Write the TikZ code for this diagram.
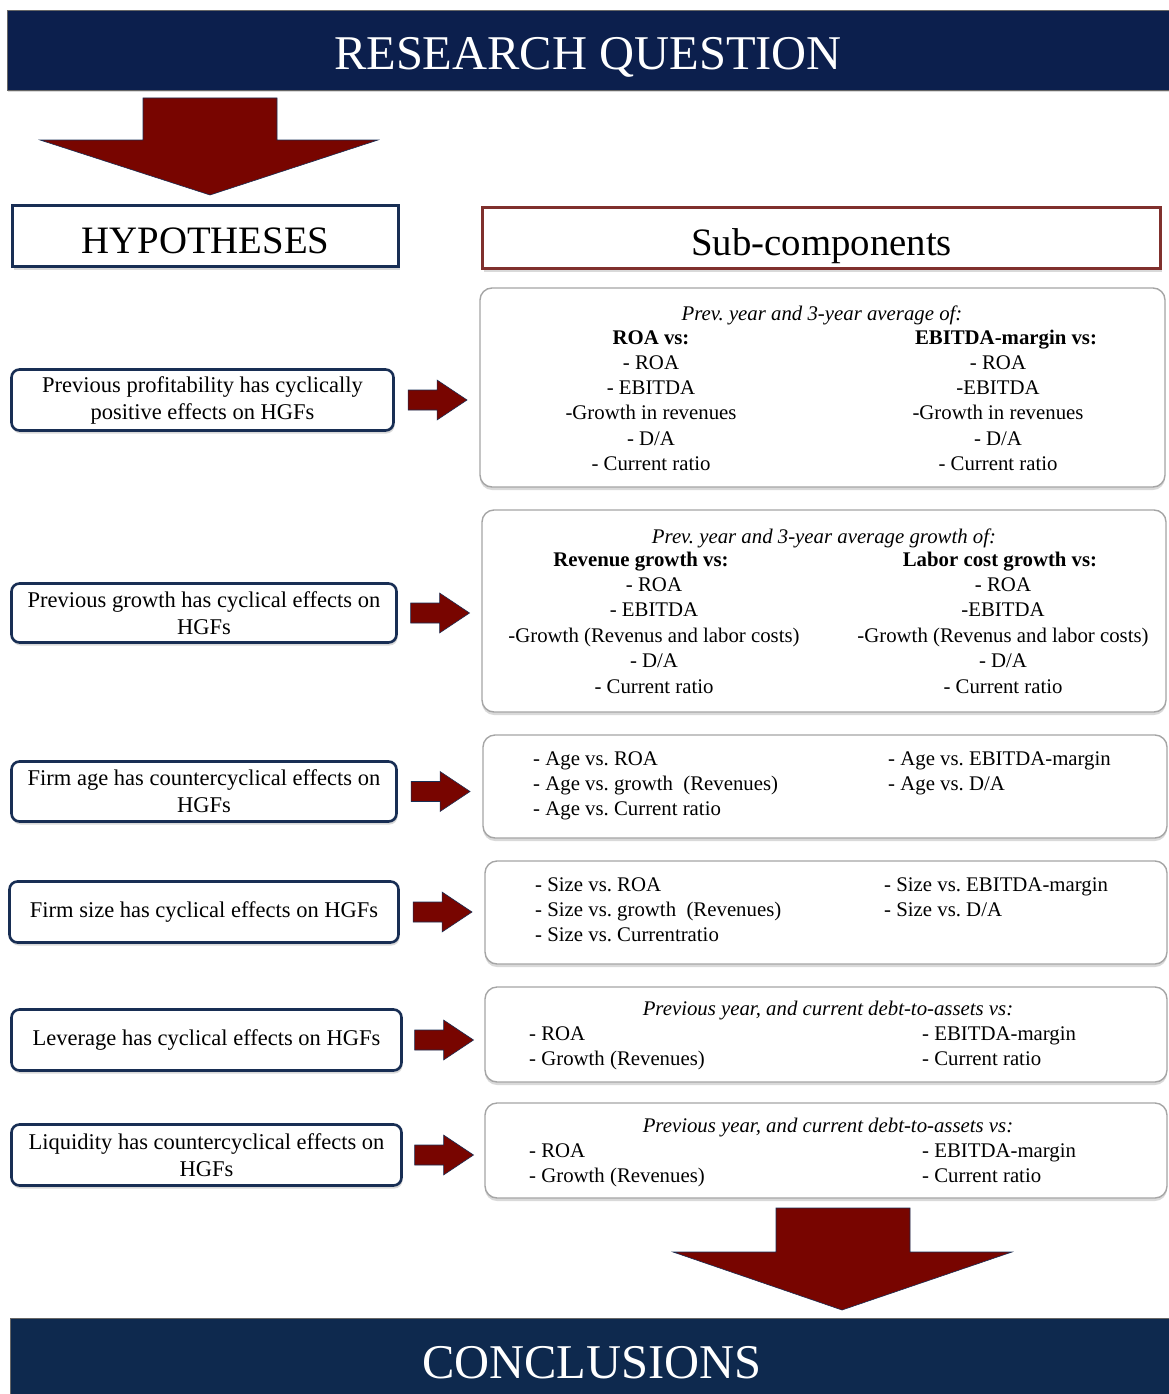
\documentclass[tikz,border=0pt]{standalone}
\usepackage{fontspec}
\setmainfont{Liberation Serif}
\usetikzlibrary{calc,shadows}
\definecolor{barblue}{RGB}{12,31,77}
\definecolor{barblue2}{RGB}{14,41,78}
\definecolor{arrowred}{RGB}{120,5,0}
\definecolor{hypblue}{RGB}{24,46,84}
\definecolor{subred}{RGB}{128,48,45}
\definecolor{boxgray}{RGB}{165,165,165}
\newcommand\titlesize{\fontsize{48.5}{56}\selectfont}
\newcommand\headsize{\fontsize{38.8}{44}\selectfont}
\newcommand\hypsize{\fontsize{22.5}{27}\selectfont}
\newcommand\compsize{\fontsize{20.8}{25}\selectfont}
\frenchspacing

\begin{document}
\begin{tikzpicture}[x=1pt,y=-1pt,
  bar/.style={draw=black!60,line width=0.8pt,inner sep=0pt,
    drop shadow={opacity=0.3,shadow xshift=1pt,shadow yshift=-2pt}},
  bartext/.style={text=white,font=\titlesize,inner sep=0pt,text depth=0pt},
  headbox/.style={line width=2.6pt,fill=white,inner sep=0pt,font=\headsize,text height=34pt,text depth=0pt,
    drop shadow={opacity=0.3,shadow xshift=1pt,shadow yshift=-3pt}},
  hyp/.style={draw=hypblue,line width=2.6pt,rounded corners=8pt,fill=white,align=center,
    font=\hypsize,inner sep=0pt,drop shadow={opacity=0.3,shadow xshift=1pt,shadow yshift=-3pt}},
  comp/.style={draw=boxgray,line width=1.4pt,rounded corners=12pt,fill=white,inner sep=0pt,
    drop shadow={opacity=0.3,shadow xshift=0pt,shadow yshift=-3pt}},
  ctext/.style={font=\compsize,anchor=base,inner sep=0pt},
  fat/.style={fill=arrowred,draw=hypblue,line width=0.6pt},
]
\useasboundingbox (0,0) rectangle (1169,1394);

\node[bar,fill=barblue,minimum width=1162pt,minimum height=80pt] (rq) at (588,50) {};
\node[bartext] (rqt) at (588,53) {RESEARCH QUESTION};
\draw[fat] (143,98) -- (277,98) -- (277,140) -- (378,140) -- (210,195) -- (40,140) -- (143,140) -- cycle;

\node[headbox,draw=hypblue,minimum width=386pt,minimum height=61pt] (hyp) at (205.5,236) {HYPOTHESES};
\node[headbox,draw=subred,minimum width=678pt,minimum height=61pt] (sub) at (821.5,238) {Sub-components};

\node[hyp,minimum width=382pt,minimum height=61pt] (h1) at (202.5,400) {Previous profitability has cyclically\\positive effects on HGFs};
\node[hyp,minimum width=385pt,minimum height=59pt] (h2) at (204,613) {Previous growth has cyclical effects on\\HGFs};
\node[hyp,minimum width=385pt,minimum height=60pt] (h3) at (204,791.5) {Firm age has countercyclical effects on\\HGFs};
\node[hyp,minimum width=389pt,minimum height=61pt] (h4) at (204,912) {Firm size has cyclical effects on HGFs};
\node[hyp,minimum width=390pt,minimum height=61pt] (h5) at (206.5,1040) {Leverage has cyclical effects on HGFs};
\node[hyp,minimum width=390pt,minimum height=61pt] (h6) at (206.5,1155) {Liquidity has countercyclical effects on\\HGFs};

\node[comp,minimum width=685pt,minimum height=199pt] (s1) at (822.5,387.5) {};
\node[comp,minimum width=684pt,minimum height=202pt] (s2) at (824,611) {};
\node[comp,minimum width=684pt,minimum height=103pt] (s3) at (825,786.5) {};
\node[comp,minimum width=682pt,minimum height=103pt] (s4) at (826,912.5) {};
\node[comp,minimum width=682pt,minimum height=95pt] (s5) at (826,1034.5) {};
\node[comp,minimum width=682pt,minimum height=95pt] (s6) at (826,1150.5) {};

\foreach \i in {1,...,6}
\draw[fat] ($(h\i.east)!0.5!(s\i.west |- h\i.east)$) ++(-29,-10) -- ++(29,0) -- ++(0,-10) -- ++(30,20) -- ++(-30,20) -- ++(0,-10) -- ++(-29,0) -- cycle;

\node[ctext,font=\compsize\itshape] (s1t) at (822,320) {Prev. year and 3-year average of:};
\node[ctext,font=\compsize\bfseries] (s1a) at (651,344) {ROA vs:};
\node[ctext,font=\compsize\bfseries] (s1b) at (1006,344) {EBITDA-margin vs:};
\foreach \t [count=\i] in {- ROA,- EBITDA,-Growth in revenues,- D/A,- Current ratio}
\node[ctext] (s1a\i) at (651,{344+25.3*\i}) {\t};
\foreach \t [count=\i] in {- ROA,-EBITDA,-Growth in revenues,- D/A,- Current ratio}
\node[ctext] (s1b\i) at (998,{344+25.3*\i}) {\t};

\node[ctext,font=\compsize\itshape] (s2t) at (824,543) {Prev. year and 3-year average growth of:};
\node[ctext,font=\compsize\bfseries] (s2a) at (641,566) {Revenue growth vs:};
\node[ctext,font=\compsize\bfseries] (s2b) at (1000,566) {Labor cost growth vs:};
\foreach \t [count=\i] in {- ROA,- EBITDA,-Growth (Revenus and labor costs),- D/A,- Current ratio}
\node[ctext] (s2a\i) at (654,{566+25.4*\i}) {\t};
\foreach \t [count=\i] in {- ROA,-EBITDA,-Growth (Revenus and labor costs),- D/A,- Current ratio}
\node[ctext] (s2b\i) at (1003,{566+25.4*\i}) {\t};

\foreach \t [count=\i from 0] in {- Age vs. ROA,- Age vs. growth\ \ (Revenues),- Age vs. Current ratio}
\node[ctext,anchor=base west] (s3a\i) at (533,{765+25*\i}) {\t};
\foreach \t [count=\i from 0] in {- Age vs. EBITDA-margin,- Age vs. D/A}
\node[ctext,anchor=base west] (s3b\i) at (888,{765+25*\i}) {\t};

\foreach \t [count=\i from 0] in {- Size vs. ROA,- Size vs. growth\ \ (Revenues),- Size vs. Currentratio}
\node[ctext,anchor=base west] (s4a\i) at (535,{891+25*\i}) {\t};
\foreach \t [count=\i from 0] in {- Size vs. EBITDA-margin,- Size vs. D/A}
\node[ctext,anchor=base west] (s4b\i) at (884,{891+25*\i}) {\t};

\foreach \k/\y in {5/1015,6/1132}{
\node[ctext,font=\compsize\itshape] (s\k t) at (828,\y) {Previous year, and current debt-to-assets vs:};
\foreach \t [count=\i] in {- ROA,- Growth (Revenues)}
\node[ctext,anchor=base west] (s\k a\i) at (529,{\y+25*\i}) {\t};
\foreach \t [count=\i] in {- EBITDA-margin,- Current ratio}
\node[ctext,anchor=base west] (s\k b\i) at (922,{\y+25*\i}) {\t};
}

\draw[fat] (776,1208) -- (910,1208) -- (910,1252) -- (1012,1252) -- (842,1310) -- (673,1252) -- (776,1252) -- cycle;
\node[bar,fill=barblue2,minimum width=1159pt,minimum height=110pt] (cc) at (589.5,1373) {};
\node[bartext] (cct) at (592,1362) {CONCLUSIONS};
\end{tikzpicture}
\end{document}
